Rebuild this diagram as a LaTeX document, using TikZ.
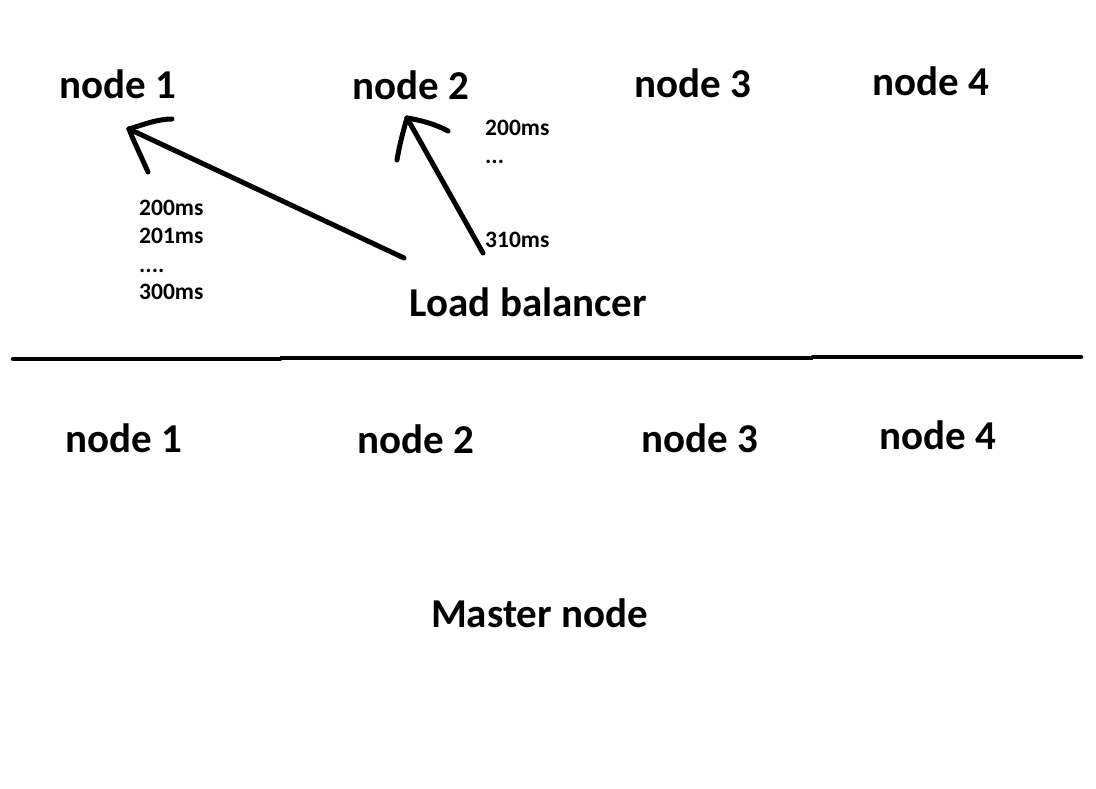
\documentclass[tikz,border=0pt]{standalone}
\usepackage{fontspec}
\setmainfont{Carlito}
\begin{document}
\begin{tikzpicture}[x=1pt,y=-1pt,
  big/.style={inner sep=0pt,anchor=base,font=\fontsize{41}{48}\selectfont\bfseries},
  small/.style={inner sep=0pt,anchor=base west,font=\fontsize{23.5}{28}\selectfont\bfseries},
  stroke/.style={line width=5pt,line cap=round,line join=round}]
\useasboundingbox[fill=white] (0,0) rectangle (1096,788);
% top row
\node[big] (t1) at (117.5,98) {node 1};
\node[big] (t2) at (410.5,99) {node 2};
\node[big] (t3) at (692.5,97) {node 3};
\node[big] (t4) at (930.5,95) {node 4};
\node[big] (lb) at (528.5,316) {Load balancer};
% bottom row
\node[big] (b1) at (124,452) {node 1};
\node[big] (b2) at (416,453) {node 2};
\node[big] (b3) at (700,452) {node 3};
\node[big] (b4) at (938,449) {node 4};
\node[big] (mn) at (539.5,627) {Master node};
% small labels
\node[small] (la) at (139,215) {200ms};
\node[small] (lb2) at (139,243) {201ms};
\node[small] (lc) at (139,272) {....};
\node[small] (ld) at (139,299) {300ms};
\node[small] (ra) at (485,135) {200ms};
\node[small] (rb) at (485,163) {...};
\node[small] (rc) at (485,247) {310ms};
% separator (three hand-drawn pieces)
\coordinate (s0) at (13,359);
\coordinate (s1) at (280,359);
\coordinate (s1b) at (280,358);
\coordinate (s2) at (813,358);
\coordinate (s2b) at (813,357);
\coordinate (s3) at (1081,357);
\draw[line width=4.5pt,line cap=round] (s0) -- (s1);
\draw[line width=4.5pt,line cap=butt] (s1b) -- (s2);
\draw[line width=4.5pt,line cap=round] (s2b) -- (s3);
% arrow 1
\coordinate (a1tail) at (404,258);
\coordinate (a1tip) at (129,129);
\coordinate (a1h1) at (172,119);
\coordinate (a1h2) at (148,172);
\draw[stroke] (a1tail) -- (a1tip);
\draw[stroke] (a1tip) .. controls (145,124) and (158,119) .. (a1h1);
\draw[stroke] (a1tip) .. controls (134,142) and (141,156) .. (a1h2);
% arrow 2
\coordinate (a2tail) at (483,253);
\coordinate (a2tip) at (407,118);
\coordinate (a2h1) at (448,131);
\coordinate (a2h2) at (397,160);
\draw[stroke] (a2tail) -- (a2tip);
\draw[stroke] (a2tip) .. controls (420,120) and (435,124) .. (a2h1);
\draw[stroke] (a2tip) .. controls (402,135) and (399,148) .. (a2h2);
\end{tikzpicture}
\end{document}
